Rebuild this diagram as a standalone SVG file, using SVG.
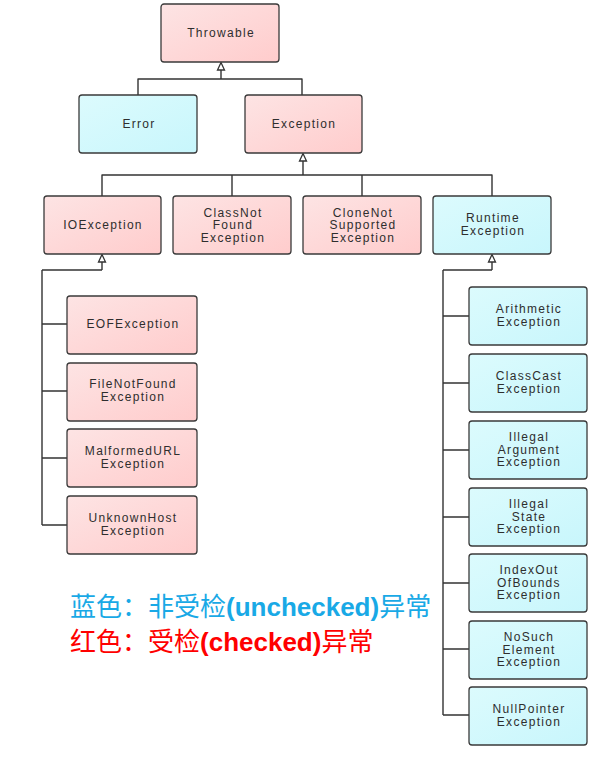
<svg xmlns="http://www.w3.org/2000/svg" width="616" height="762" viewBox="0 0 616 762">
<style>
.box{stroke:#3a3a3a;stroke-width:1.3}
.pink{fill:url(#gp)}
.cyan{fill:url(#gc)}
.t{font-family:"Liberation Sans",Arial,sans-serif;font-size:12px;letter-spacing:1.3px;fill:#2e2e2e;text-anchor:middle}
.c{fill:none;stroke:#333;stroke-width:1.4;stroke-linejoin:round}
.arr{fill:#fff;stroke:#333;stroke-width:1.3}
.leg{font-family:"Liberation Sans","Noto Sans CJK SC",sans-serif;font-size:26px}
.cjk{font-family:"Noto Sans CJK SC",sans-serif;font-weight:normal}
.lat{font-family:"Liberation Sans",Arial,sans-serif;font-weight:bold}
</style>
<defs>
<linearGradient id="gp" x1="0" y1="0" x2="1" y2="1">
<stop offset="0" stop-color="#fde4e4"/><stop offset="1" stop-color="#ffcccc"/>
</linearGradient>
<linearGradient id="gc" x1="0" y1="0" x2="1" y2="1">
<stop offset="0" stop-color="#dcfbfd"/><stop offset="1" stop-color="#c8f6fc"/>
</linearGradient>
</defs>

<g id="connectors">
<path class="c" d="M138,95 V79 H302 V95"/>
<path class="c" d="M221,79 V70"/>
<path class="arr" d="M221,62.5 L224.5,70 L217.5,70 Z"/>
<path class="c" d="M102,196 V175 H492 V196 M232,175 V196 M362,175 V196"/>
<path class="c" d="M303,175 V161"/>
<path class="arr" d="M303,153.5 L306.5,161 L299.5,161 Z"/>
<path class="c" d="M42,270 H102 M42,270 V525 M42,324 H67 M42,391 H67 M42,458 H67 M42,525 H67"/>
<path class="c" d="M102,270 V262"/>
<path class="arr" d="M102,254.5 L105.5,262 L98.5,262 Z"/>
<path class="c" d="M443,270 H492 M443,270 V715 M443,316 H469 M443,383 H469 M443,450 H469 M443,517 H469 M443,583 H469 M443,649 H469 M443,715 H469"/>
<path class="c" d="M492,270 V262"/>
<path class="arr" d="M492,254.5 L495.5,262 L488.5,262 Z"/>
</g>

<g id="Throwable"><rect class="box pink" x="161" y="4" width="118" height="58" rx="3"/><text class="t" x="221" y="37">Throwable</text></g>
<g id="Error"><rect class="box cyan" x="79" y="95" width="118" height="58" rx="3"/><text class="t" x="139" y="128">Error</text></g>
<g id="Exception"><rect class="box pink" x="245" y="95" width="117" height="58" rx="3"/><text class="t" x="304" y="128">Exception</text></g>

<g id="IOException"><rect class="box pink" x="44" y="196" width="117" height="58" rx="3"/><text class="t" x="103" y="229">IOException</text></g>
<g id="ClassNotFoundException"><rect class="box pink" x="173" y="196" width="118" height="58" rx="3"/><text class="t" x="233" y="216.5">ClassNot<tspan x="233" dy="12.5">Found</tspan><tspan x="233" dy="12.5">Exception</tspan></text></g>
<g id="CloneNotSupportedException"><rect class="box pink" x="303" y="196" width="118" height="58" rx="3"/><text class="t" x="363" y="216.5">CloneNot<tspan x="363" dy="12.5">Supported</tspan><tspan x="363" dy="12.5">Exception</tspan></text></g>
<g id="RuntimeException"><rect class="box cyan" x="433" y="196" width="118" height="58" rx="3"/><text class="t" x="493" y="222">Runtime<tspan x="493" dy="12.5">Exception</tspan></text></g>

<g id="EOFException"><rect class="box pink" x="67" y="296" width="130" height="58" rx="3"/><text class="t" x="133" y="328">EOFException</text></g>
<g id="FileNotFoundException"><rect class="box pink" x="67" y="363" width="130" height="58" rx="3"/><text class="t" x="133" y="388">FileNotFound<tspan x="133" dy="12.5">Exception</tspan></text></g>
<g id="MalformedURLException"><rect class="box pink" x="67" y="429" width="130" height="58" rx="3"/><text class="t" x="133" y="455">MalformedURL<tspan x="133" dy="12.5">Exception</tspan></text></g>
<g id="UnknownHostException"><rect class="box pink" x="67" y="496" width="130" height="58" rx="3"/><text class="t" x="133" y="522">UnknownHost<tspan x="133" dy="12.5">Exception</tspan></text></g>

<g id="ArithmeticException"><rect class="box cyan" x="469" y="287" width="118" height="58" rx="3"/><text class="t" x="529" y="313">Arithmetic<tspan x="529" dy="12.5">Exception</tspan></text></g>
<g id="ClassCastException"><rect class="box cyan" x="469" y="354" width="118" height="58" rx="3"/><text class="t" x="529" y="380">ClassCast<tspan x="529" dy="12.5">Exception</tspan></text></g>
<g id="IllegalArgumentException"><rect class="box cyan" x="469" y="421" width="118" height="58" rx="3"/><text class="t" x="529" y="441">Illegal<tspan x="529" dy="12.5">Argument</tspan><tspan x="529" dy="12.5">Exception</tspan></text></g>
<g id="IllegalStateException"><rect class="box cyan" x="469" y="488" width="118" height="58" rx="3"/><text class="t" x="529" y="508">Illegal<tspan x="529" dy="12.5">State</tspan><tspan x="529" dy="12.5">Exception</tspan></text></g>
<g id="IndexOutOfBoundsException"><rect class="box cyan" x="469" y="554" width="118" height="58" rx="3"/><text class="t" x="529" y="574">IndexOut<tspan x="529" dy="12.5">OfBounds</tspan><tspan x="529" dy="12.5">Exception</tspan></text></g>
<g id="NoSuchElementException"><rect class="box cyan" x="469" y="621" width="118" height="58" rx="3"/><text class="t" x="529" y="641">NoSuch<tspan x="529" dy="12.5">Element</tspan><tspan x="529" dy="12.5">Exception</tspan></text></g>
<g id="NullPointerException"><rect class="box cyan" x="469" y="687" width="118" height="58" rx="3"/><text class="t" x="529" y="713">NullPointer<tspan x="529" dy="12.5">Exception</tspan></text></g>

<g id="legend">
<text class="leg" x="70" y="616" fill="#19a9e6"><tspan class="cjk">蓝色：非受检</tspan><tspan class="lat">(unchecked)</tspan><tspan class="cjk">异常</tspan></text>
<text class="leg" x="70" y="651" fill="#ff0000"><tspan class="cjk">红色：受检</tspan><tspan class="lat">(checked)</tspan><tspan class="cjk">异常</tspan></text>
</g>
</svg>
